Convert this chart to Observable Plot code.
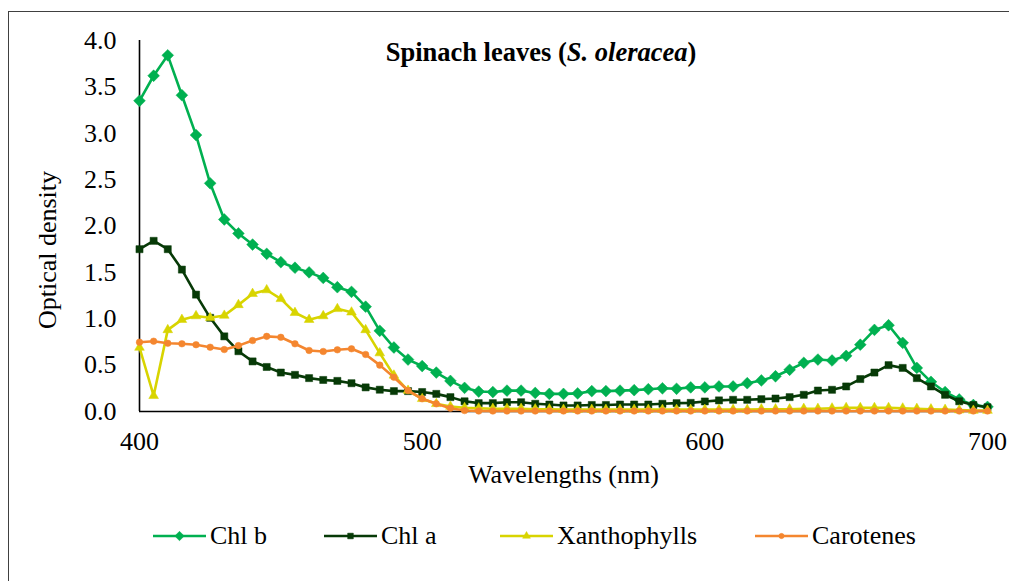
<!DOCTYPE html>
<html><head><meta charset="utf-8">
<script src="https://cdn.jsdelivr.net/npm/d3@7"></script>
<script src="https://cdn.jsdelivr.net/npm/@observablehq/plot@0.6"></script>
<style>
html,body{margin:0;padding:0;background:#fff;}
body{width:1009px;height:581px;overflow:hidden;position:relative;font-family:"Liberation Serif","Times New Roman",serif;color:#000;}
#frame{position:absolute;left:8px;top:11px;width:1030px;height:620px;border:1.5px solid #404040;box-sizing:border-box;}
#chart{position:absolute;left:0;top:0;}
#title{position:absolute;left:291px;width:500px;top:37px;line-height:30px;text-align:center;font-size:26.5px;font-weight:bold;}
.leg{position:absolute;top:520px;height:32px;display:flex;align-items:center;font-size:26px;white-space:nowrap;}
.leg svg{margin-right:4px;}
svg text{font-family:"Liberation Serif","Times New Roman",serif;}
</style>
</head><body>
<div id="frame"></div>
<div id="chart"></div>
<div id="title">Spinach leaves (<i>S. oleracea</i>)</div>
<div id="legend"></div>
<script>
const wavelengths = [400,405,410,415,420,425,430,435,440,445,450,455,460,465,470,475,480,485,490,495,
  500,505,510,515,520,525,530,535,540,545,550,555,560,565,570,575,580,585,590,595,
  600,605,610,615,620,625,630,635,640,645,650,655,660,665,670,675,680,685,690,695,700];

const chlB = [3.35,3.62,3.84,3.41,2.98,2.46,2.07,1.92,1.80,1.70,1.61,1.55,1.50,1.44,1.34,1.29,1.13,0.87,0.69,0.56,
  0.49,0.42,0.33,0.255,0.215,0.21,0.225,0.225,0.20,0.19,0.19,0.195,0.22,0.22,0.225,0.23,0.24,0.25,0.245,0.26,
  0.26,0.27,0.27,0.305,0.335,0.38,0.45,0.525,0.56,0.55,0.60,0.72,0.88,0.93,0.74,0.47,0.32,0.21,0.13,0.07,0.05];

const chlA = [1.75,1.84,1.75,1.53,1.26,1.01,0.81,0.65,0.54,0.48,0.42,0.395,0.36,0.34,0.33,0.305,0.26,0.235,0.22,0.22,
  0.21,0.19,0.155,0.11,0.09,0.09,0.10,0.10,0.083,0.075,0.065,0.065,0.07,0.07,0.075,0.075,0.075,0.083,0.09,0.093,
  0.108,0.12,0.126,0.126,0.133,0.14,0.155,0.18,0.226,0.234,0.27,0.35,0.42,0.50,0.47,0.36,0.27,0.18,0.11,0.07,0.046];

const xanthophylls = [0.69,0.17,0.88,0.99,1.03,1.01,1.035,1.15,1.27,1.31,1.215,1.065,0.99,1.03,1.107,1.07,0.88,0.63,0.39,0.226,
  0.137,0.083,0.054,0.04,0.035,0.03,0.03,0.03,0.025,0.025,0.02,0.02,0.02,0.02,0.02,0.02,0.02,0.02,0.02,0.02,
  0.02,0.02,0.02,0.02,0.025,0.025,0.025,0.03,0.03,0.035,0.04,0.04,0.04,0.04,0.035,0.03,0.025,0.02,0.015,0.01,0.01];

const carotenes = [0.747,0.758,0.736,0.73,0.72,0.693,0.668,0.71,0.765,0.81,0.80,0.73,0.658,0.647,0.665,0.676,0.615,0.50,0.37,0.226,
  0.137,0.083,0.036,0.01,0.005,0.005,0.005,0.005,0.005,0.005,0.005,0.005,0.005,0.005,0.005,0.005,0.005,0.005,0.005,0.005,
  0.005,0.005,0.005,0.005,0.005,0.005,0.005,0.005,0.005,0.005,0.005,0.005,0.005,0.005,0.005,0.005,0.005,0.005,0.005,0.005,0.005];

const seriesNames = ["Chl b","Chl a","Xanthophylls","Carotenes"];
const seriesValues = [chlB, chlA, xanthophylls, carotenes];
const seriesColors = ["#00B050","#073A07","#D8D400","#F4862F"];
const seriesSymbols = ["diamond2","square","triangle","circle"];
const seriesR = [5.3,4.0,3.6,3.3];

const xTicks = [400,500,600,700];
const yTicks = [0,0.5,1,1.5,2,2.5,3,3.5,4];

const serif = "'Liberation Serif','Times New Roman',serif";

const marks = [
  Plot.axisY({ticks: yTicks, tickFormat: d => d.toFixed(1), tickSize: 0, tickPadding: 23, label: null, fontSize: 26}),
  Plot.axisX({ticks: xTicks, tickSize: 0, tickPadding: 20, label: null, fontSize: 26}),
];
seriesNames.forEach((name, i) => {
  const data = wavelengths.map((w, j) => ({wl: w, v: seriesValues[i][j]}));
  marks.push(Plot.line(data, {x: "wl", y: "v", stroke: seriesColors[i], strokeWidth: 2.6}));
  marks.push(Plot.dot(data, {x: "wl", y: "v", symbol: seriesSymbols[i], r: seriesR[i], fill: seriesColors[i], stroke: seriesColors[i], strokeWidth: 0.5}));
});
marks.unshift(Plot.ruleY([0], {stroke: "#000", strokeWidth: 1.6}));
marks.unshift(Plot.ruleX([400], {stroke: "#000", strokeWidth: 1.6}));
marks.push(Plot.text(["Wavelengths (nm)"], {text: d => d, frameAnchor: "bottom", dy: 71, fontSize: 26}));
marks.push(Plot.text(["Optical density"], {text: d => d, frameAnchor: "left", textAnchor: "middle", dx: -92, dy: 24, rotate: -90, fontSize: 26}));

const chart = Plot.plot({
  width: 1009, height: 500,
  marginLeft: 139, marginRight: 22, marginTop: 40, marginBottom: 89,
  x: {domain: [400, 700]},
  y: {domain: [0, 4]},
  style: {fontFamily: serif, fontSize: "26px", color: "#000", background: "transparent", overflow: "visible"},
  marks
});
document.getElementById("chart").appendChild(chart);

// Legend
const legendLeft = [153, 324, 500, 755];
const symMap = {diamond2: d3.symbolDiamond2, square: d3.symbolSquare, triangle: d3.symbolTriangle, circle: d3.symbolCircle};
const legend = document.getElementById("legend");
seriesNames.forEach((name, i) => {
  const item = document.createElement("div");
  item.className = "leg";
  item.style.left = legendLeft[i] + "px";
  const r = seriesR[i] * 0.8;
  const path = d3.symbol(symMap[seriesSymbols[i]], Math.PI * r * r)();
  item.innerHTML = `<svg width="53" height="20" viewBox="0 0 53 20"><line x1="0" x2="53" y1="10" y2="10" stroke="${seriesColors[i]}" stroke-width="2.6"/><path transform="translate(26.5,10)" d="${path}" fill="${seriesColors[i]}" stroke="${seriesColors[i]}" stroke-width="0.5"/></svg><span>${name}</span>`;
  legend.appendChild(item);
});
</script>
</body></html>
